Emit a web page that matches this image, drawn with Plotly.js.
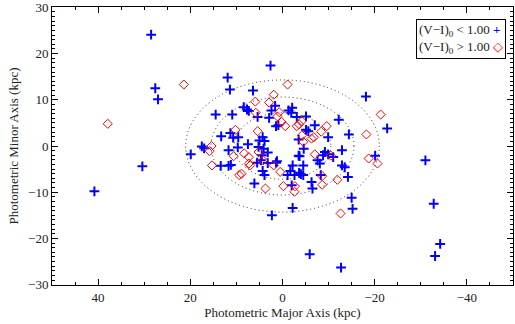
<!DOCTYPE html>
<html><head><meta charset="utf-8">
<script src="https://cdn.plot.ly/plotly-3.0.1.min.js"></script>
<style>body{margin:0;background:#fff}</style>
</head><body><div id="chart" style="width:515px;height:324px"></div>
<script>
// Blue: (V-I)0 < 1.00
const blueX = [28.5,27.6,27.0,40.8,30.4,2.6,11.9,11.4,6.4,14.5,10.9,-18.1,-22.7,-14.4,-12.9,-31.0,-32.8,-34.2,-33.1,-12.7,-5.9,-15.0,-15.2,-2.2,2.3,6.1,
  8.4,7.7,7.3,1.6,2.4,2.9,-1.3,-2.1,-1.9,-3.1,-5.1,1.4,0.9,-7.0,-5.1,-5.6,-12.2,-9.9,13.3,11.3,10.7,9.6,7.5,9.7,11.7,17.5,17.0,19.9,
  5.0,4.3,3.9,5.2,4.1,3.2,4.5,-3.5,-3.5,-9.9,-9.2,-8.8,13.4,11.7,11.2,5.5,4.3,3.9,4.7,1.4,-1.1,-1.7,-2.2,-2.6,-2.0,-3.7,-4.0,-4.5,-3.6,-4.5,
  -6.3,-6.5,-8.3,-7.6,-8.1,-12.9,-11.0,-13.5,-14.2,-20.1,5.4,-4.6,3.2,1.2];
const blueY = [24.1,12.5,10.1,-9.8,-4.4,17.4,14.8,12.2,12.0,6.8,6.8,10.7,3.8,2.5,-0.9,-3.1,-12.5,-21.2,-23.8,-26.3,-23.4,-11.2,-13.6,-13.4,-15.0,-8.1,
  8.4,7.9,7.6,8.7,7.7,6.1,7.7,8.3,7.2,6.3,6.4,4.3,4.5,4.5,3.5,3.2,5.7,1.9,2.1,2.8,1.8,1.9,0.4,-0.3,-0.9,-0.1,-0.5,-1.8,
  1.2,1.9,1.1,-0.2,-0.6,-1.4,-2.0,1.4,-2.1,-1.8,-1.3,-2.0,-4.3,-4.3,-4.1,-3.6,-5.4,-6.3,-3.1,-3.6,-6.3,-5.4,-4.2,-6.3,-8.5,-2.2,-6.1,-6.3,-5.8,-4.2,
  -7.8,-9.2,-6.3,-3.1,-3.8,-4.2,-2.4,-4.6,-6.7,-2.1,6.3,-0.6,-3.7,-3.3];
// Red: (V-I)0 > 1.00
const redX = [37.9,21.4,-1.1,-21.3,-18.2,-12.6,-18.7,-20.6,1.9,5.9,2.9,5.8,1.1,0.7,0.2,-0.6,-3.1,-3.6,-4.2,-9.6,-8.4,-4.2,-6.3,-6.8,-4.5,
  10.2,5.4,15.4,15.8,8.3,7.3,10.6,5.2,-7.0,-10.5,15.3,9.4,8.9,7.3,7.0,3.7,4.2,1.9,0.5,-0.2,-2.7,-2.6,-8.6,-8.6,-11.9];
const redY = [4.8,13.3,13.3,6.8,2.5,-14.6,-2.7,-3.8,11.1,9.6,9.4,7.2,6.4,7.3,5.2,4.3,4.3,4.7,5.4,4.3,3.1,2.3,1.6,1.9,0.9,
  3.5,3.2,0.0,-1.1,-1.6,-2.4,-2.2,-1.3,-1.8,-2.1,-4.2,-6.3,-6.0,-3.8,-4.2,-9.2,-3.1,-4.2,-5.6,-8.7,-8.7,-9.9,-6.5,-8.4,-7.3];
// Dotted ellipses (semi-axes, kpc)
const ellA = [10.5, 15.5, 21.0];
const ellB = [7.2, 10.6, 14.3];
const yTickVals = [-30, -20, -10, 0, 10, 20, 30];
const yTickText = ["\u221230", "\u221220", "\u221210", "0", "10", "20", "30"];
const legendLabels = ["(V\u2212I)<sub>0</sub> &lt; 1.00", "(V\u2212I)<sub>0</sub> &gt; 1.00"];

const serif = "Liberation Serif, Times New Roman, serif";
const traces = [
  {x: blueX, y: blueY, type: 'scatter', mode: 'markers', name: 'blue',
   marker: {symbol: 'cross-thin-open', size: 7, color: '#0000ff', line: {color: '#0000ff', width: 2}}},
  {x: redX, y: redY, type: 'scatter', mode: 'markers', name: 'red',
   marker: {symbol: 'diamond-open', size: 7, color: '#ff0000', line: {color: '#ff0000', width: 1}}}
];
const shapes = ellA.map((a, i) => ({type: 'circle', xref: 'x', yref: 'y', x0: -a, x1: a, y0: -ellB[i], y1: ellB[i],
  line: {color: '#333', width: 1, dash: '1px,3px'}}));
const axisCommon = {showgrid: false, zeroline: false, showline: true, linecolor: '#000', linewidth: 1,
  mirror: 'allticks', ticks: 'inside', ticklen: 6, tickcolor: '#000', tickwidth: 1, ticklabeloverflow: 'allow',
  tickfont: {family: serif, size: 13, color: '#222'}};
const layout = {
  width: 515, height: 324,
  margin: {l: 52, r: 2, t: 7, b: 39},
  paper_bgcolor: '#fff', plot_bgcolor: '#fff',
  showlegend: false,
  xaxis: Object.assign({}, axisCommon, {range: [50, -50], dtick: 20, tick0: 0,
    minor: {dtick: 5, ticklen: 3, ticks: 'inside', tickcolor: '#000'},
    title: {text: 'Photometric Major Axis (kpc)', font: {family: serif, size: 13, color: '#222'}, standoff: 4}}),
  yaxis: Object.assign({}, axisCommon, {range: [-30.08, 30.08], tickmode: 'array', tickvals: yTickVals, ticktext: yTickText,
    minor: {dtick: 1, ticklen: 3, ticks: 'inside', tickcolor: '#000'},
    title: {text: 'Photometric Minor Axis (kpc)', font: {family: serif, size: 13, color: '#222'}, standoff: 6}}),
  shapes: shapes,
  annotations: [{
    xref: 'paper', yref: 'paper', x: 0.985, y: 0.957, xanchor: 'right', yanchor: 'top', align: 'left',
    showarrow: false, bordercolor: '#000', borderwidth: 1, borderpad: 2, bgcolor: '#fff',
    font: {family: serif, size: 13, color: '#222'},
    text: legendLabels[0] + " <span style='color:#0000ff'><b>+</b></span><br>" +
          legendLabels[1] + " <span style='color:#ff0000'>\u25C7</span>"
  }]
};
Plotly.newPlot('chart', traces, layout, {staticPlot: true, displayModeBar: false});
</script></body></html>
